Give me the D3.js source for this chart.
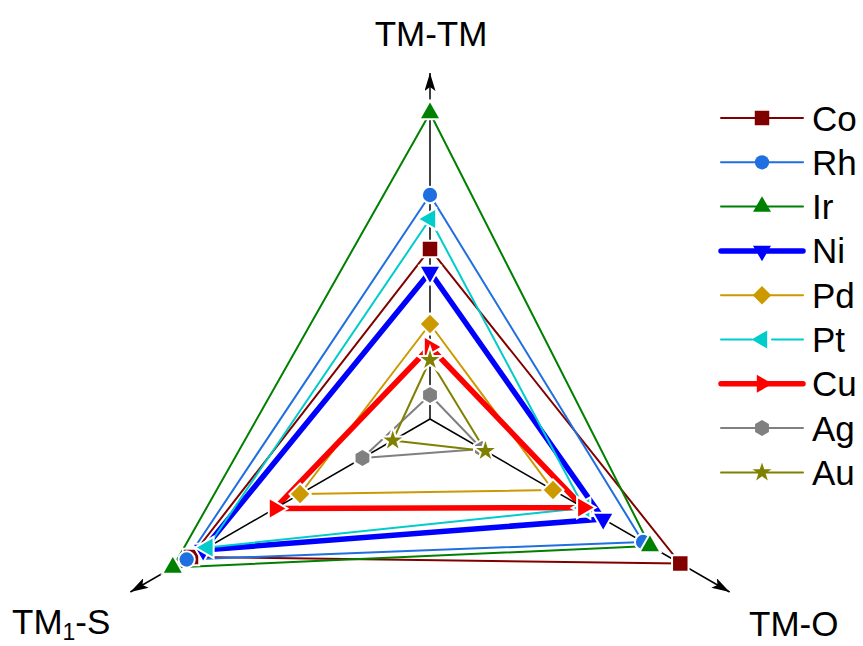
<!DOCTYPE html>
<html>
<head>
<meta charset="utf-8">
<script src="https://cdn.jsdelivr.net/npm/d3@7"></script>
<style>
  body { margin: 0; background: #fff; }
  svg { font-family: "Liberation Sans", Arial, sans-serif; }
</style>
</head>
<body>
<svg width="863" height="646"></svg>
<script>
// data
var axisNames = ["TM-TM", "TM-O", "TM1-S"];
var metals = ["Co", "Rh", "Ir", "Ni", "Pd", "Pt", "Cu", "Ag", "Au"];
var tmTM = [1.70, 2.24, 3.06, 1.47, 0.95, 2.00, 0.72, 0.24, 0.59];
var tmO  = [2.89, 2.46, 2.54, 2.00, 1.42, 1.78, 1.77, 0.60, 0.64];
var tmS  = [2.76, 2.81, 2.97, 2.62, 1.50, 2.57, 1.79, 0.78, 0.43];
var colors = ["#800000", "#1f6fe0", "#008000", "#0000ff", "#cc9900", "#00cccc", "#ff0000", "#808080", "#808000"];
var widths = [2, 2, 2, 5.5, 2, 2, 5.5, 2, 2];
var shapes = ["square", "circle", "up", "down", "diamond", "left", "right", "hex", "star"];

var svg = d3.select("svg");
var cx = 430, cy = 419;
var r = d3.scaleLinear().domain([0, 3.5]).range([0, 350]);
var axisMax = 3.46;
// angles (screen coords): up, lower right, lower left
var angles = [-90, 30, 150].map(function(a) { return a * Math.PI / 180; });

function pt(i, v) {
  return [cx + r(v) * Math.cos(angles[i]), cy + r(v) * Math.sin(angles[i])];
}

// arrow marker
svg.append("defs").append("marker")
  .attr("id", "arr")
  .attr("viewBox", "0 0 18 11")
  .attr("refX", 18).attr("refY", 5.5)
  .attr("markerWidth", 18).attr("markerHeight", 11)
  .attr("markerUnits", "userSpaceOnUse")
  .attr("orient", "auto")
  .append("path").attr("d", "M0,0 L18,5.5 L0,11 L4,5.5 Z").attr("fill", "#000");

function symbolPath(shape) {
  if (shape == "square") return d3.symbol(d3.symbolSquare, 210)();
  if (shape == "circle") return d3.symbol(d3.symbolCircle, 160)();
  if (shape == "diamond") return d3.symbol(d3.symbolSquare, 170)();
  if (shape == "star") return d3.symbol(d3.symbolStar, 110)();
  if (shape == "hex") {
    var p = d3.path(), R = 8;
    for (var k = 0; k < 6; k++) {
      var a = Math.PI / 6 + k * Math.PI / 3;
      if (k == 0) p.moveTo(R * Math.cos(a), R * Math.sin(a));
      else p.lineTo(R * Math.cos(a), R * Math.sin(a));
    }
    p.closePath();
    return p.toString();
  }
  return d3.symbol(d3.symbolTriangle, 140)();
}
function symbolRot(shape) {
  if (shape == "down") return 180;
  if (shape == "left") return -90;
  if (shape == "right") return 90;
  if (shape == "diamond") return 45;
  return 0;
}

var line = d3.line().curve(d3.curveLinearClosed);

// polygons
var plot = svg.append("g");
metals.forEach(function(m, i) {
  var vals = [tmTM[i], tmO[i], tmS[i]];
  var pts = vals.map(function(v, k) { return pt(k, v); });
  plot.append("path")
    .attr("d", line(pts))
    .attr("fill", "none")
    .attr("stroke", colors[i])
    .attr("stroke-width", widths[i])
    .attr("stroke-linejoin", "round");
});

// axes
angles.forEach(function(a, k) {
  var end = pt(k, axisMax);
  svg.append("line")
    .attr("x1", cx).attr("y1", cy)
    .attr("x2", end[0]).attr("y2", end[1])
    .attr("stroke", "#000").attr("stroke-width", 1.5)
    .attr("marker-end", "url(#arr)");
});

// markers
metals.forEach(function(m, i) {
  var vals = [tmTM[i], tmO[i], tmS[i]];
  vals.forEach(function(v, k) {
    var p = pt(k, v);
    var g = svg.append("g")
      .attr("transform", "translate(" + p[0] + "," + p[1] + ") rotate(" + symbolRot(shapes[i]) + ")");
    g.append("path").attr("d", symbolPath(shapes[i]))
      .attr("fill", "none").attr("stroke", "#fff").attr("stroke-width", 4);
    g.append("path").attr("d", symbolPath(shapes[i]))
      .attr("fill", colors[i]);
  });
});

// axis titles
svg.append("text").attr("x", 431).attr("y", 46)
  .attr("text-anchor", "middle").attr("font-size", 35).text("TM-TM");
svg.append("text").attr("x", 749).attr("y", 636)
  .attr("font-size", 35).text("TM-O");
var t1 = svg.append("text").attr("x", 12).attr("y", 634).attr("font-size", 35);
t1.append("tspan").text("TM");
t1.append("tspan").attr("font-size", 23).attr("dy", 6).text("1");
t1.append("tspan").attr("dy", -6).text("-S");

// legend
var leg = svg.append("g");
metals.forEach(function(m, i) {
  var y = 118 + i * 44.3;
  var gap = shapes[i] == "left" ? 10 : 0;
  leg.append("line").attr("x1", 721).attr("x2", 762 - gap).attr("y1", y).attr("y2", y)
    .attr("stroke", colors[i]).attr("stroke-width", widths[i]).attr("stroke-linecap", "round");
  leg.append("line").attr("x1", 762 + gap).attr("x2", 803).attr("y1", y).attr("y2", y)
    .attr("stroke", colors[i]).attr("stroke-width", widths[i]).attr("stroke-linecap", "round");
  leg.append("path").attr("d", symbolPath(shapes[i]))
    .attr("transform", "translate(762," + y + ") rotate(" + symbolRot(shapes[i]) + ")")
    .attr("fill", colors[i]);
  leg.append("text").attr("x", 812).attr("y", y + 12.5)
    .attr("font-size", 35).text(m);
});
</script>
</body>
</html>
